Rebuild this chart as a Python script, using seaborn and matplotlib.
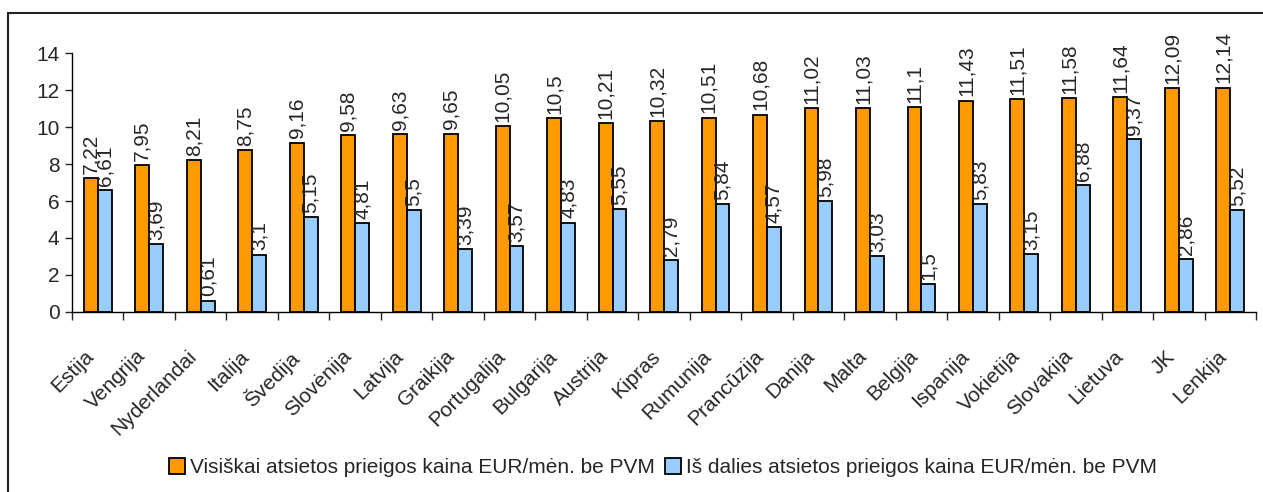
import pandas as pd
import matplotlib.pyplot as plt
import seaborn as sns
from matplotlib.patches import Rectangle

# -------------------------
# Data
# -------------------------
countries = ['Estija', 'Vengrija', 'Nyderlandai', 'Italija', 'Švedija', 'Slovėnija',
             'Latvija', 'Graikija', 'Portugalija', 'Bulgarija', 'Austrija', 'Kipras',
             'Rumunija', 'Prancūzija', 'Danija', 'Malta', 'Belgija', 'Ispanija',
             'Vokietija', 'Slovakija', 'Lietuva', 'JK', 'Lenkija']
full_price = [7.22, 7.95, 8.21, 8.75, 9.16, 9.58, 9.63, 9.65, 10.05, 10.5, 10.21, 10.32,
              10.51, 10.68, 11.02, 11.03, 11.1, 11.43, 11.51, 11.58, 11.64, 12.09, 12.14]
partial_price = [6.61, 3.69, 0.61, 3.1, 5.15, 4.81, 5.5, 3.39, 3.57, 4.83, 5.55, 2.79,
                 5.84, 4.57, 5.98, 3.03, 1.5, 5.83, 3.15, 6.88, 9.37, 2.86, 5.52]
series_names = ['Visiškai atsietos prieigos kaina EUR/mėn. be PVM',
                'Iš dalies atsietos prieigos kaina EUR/mėn. be PVM']
colors = ['#FF9900', '#99CCFF']

df = pd.DataFrame({
    'Šalis': countries * 2,
    'Kaina': full_price + partial_price,
    'Serija': [series_names[0]] * len(countries) + [series_names[1]] * len(countries),
})

# -------------------------
# Plot
# -------------------------
sns.set_style('white')
plt.rcParams['font.family'] = ['Liberation Sans', 'DejaVu Sans']

fig = plt.figure(figsize=(12.63, 4.92), dpi=100)
ax = fig.add_axes([0.057, 0.366, 0.9375, 0.526])

sns.barplot(data=df, x='Šalis', y='Kaina', hue='Serija', order=countries,
            hue_order=series_names, palette=colors, width=0.54, gap=0,
            edgecolor='black', linewidth=1.3, saturation=1, ax=ax)

# value labels, comma as decimal separator
for cont, vals in zip(ax.containers, [full_price, partial_price]):
    ax.bar_label(cont, labels=[str(v).replace('.', ',') for v in vals],
                 rotation=90, padding=3, fontsize=15)

ax.set_ylim(0, 14)
ax.set_yticks(range(0, 15, 2))
ax.set_xlim(-0.5, len(countries) - 0.5)
ax.set_xlabel('')
ax.set_ylabel('')
ax.tick_params(axis='y', labelsize=15, length=5, width=1, direction='out', left=True, pad=4)

# category labels at centres, tick marks at group boundaries
ax.set_xticks(range(len(countries)))
ax.set_xticklabels(countries, rotation=45, ha='right', fontsize=15)
ax.tick_params(axis='x', which='major', length=0, pad=25)
ax.set_xticks([i - 0.5 for i in range(len(countries) + 1)], minor=True)
ax.tick_params(axis='x', which='minor', length=6, width=1, direction='out', bottom=True)

for side in ['top', 'right']:
    ax.spines[side].set_visible(False)
for side in ['left', 'bottom']:
    ax.spines[side].set_color('black')
    ax.spines[side].set_linewidth(1)

ax.legend(loc='center', bbox_to_anchor=(0.525, 0.049), bbox_transform=fig.transFigure,
          ncol=2, frameon=False, fontsize=15, handlelength=0.75, handleheight=0.75,
          handletextpad=0.25, columnspacing=0.5)

# outer border
fig.patches.append(Rectangle((8 / 1263, -0.01), 1.0, 1 - 13 / 492 + 0.01,
                             transform=fig.transFigure, fill=False,
                             edgecolor='#222222', linewidth=1.5))

plt.savefig('out.png', dpi=100)
